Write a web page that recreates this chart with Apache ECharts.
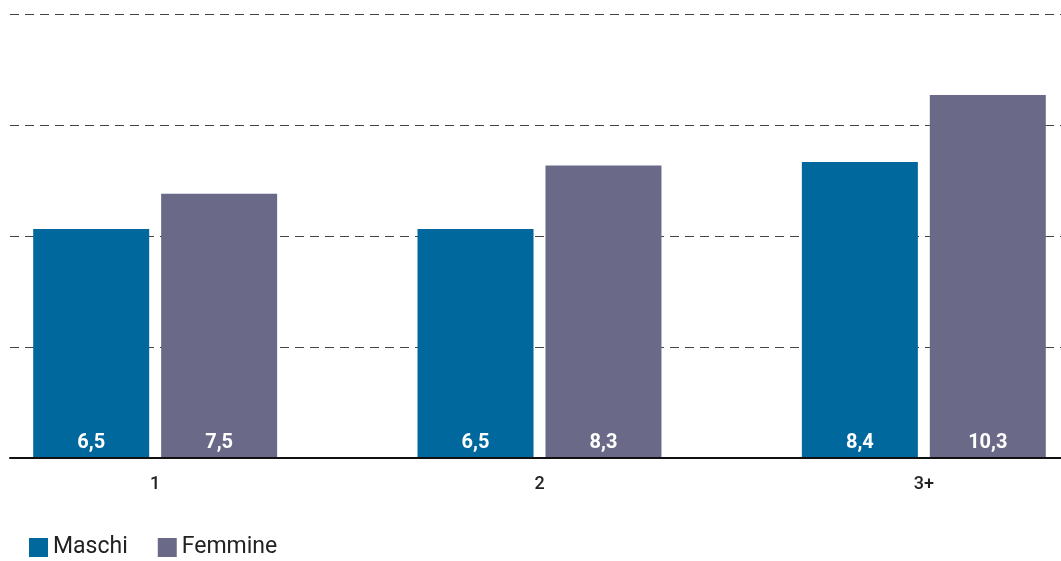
<!DOCTYPE html>
<html>
<head>
<meta charset="utf-8">
<script src="https://cdn.jsdelivr.net/npm/echarts@6/dist/echarts.min.js"></script>
<style>html,body{margin:0;padding:0;background:#fff;}#c{width:1061px;height:561px;}</style>
</head>
<body>
<div id="c"></div>
<script>
const categories = ['1', '2', '3+'];
const seriesNames = ['Maschi', 'Femmine'];
const maschi = [6.5, 6.5, 8.4];
const femmine = [7.5, 8.3, 10.3];
const yMax = 12.6;
const yInterval = 3.15;

const chart = echarts.init(document.getElementById('c'), null, {renderer: 'canvas'});
const labelCfg = {
  show: true,
  position: 'insideBottom',
  distance: 5,
  color: '#fff',
  fontSize: 20,
  fontWeight: 'bold',
  fontFamily: 'Roboto, sans-serif',
  formatter: p => String(p.value).replace('.', ',')
};
chart.setOption({
  animation: false,
  backgroundColor: '#fff',
  grid: [
    {left: 10, right: 0, top: 14, bottom: 103, containLabel: false, outerBoundsMode: 'none'},
    {left: -37, width: 1153, top: 14, bottom: 103, containLabel: false, outerBoundsMode: 'none'}
  ],
  legend: {
    left: 29, top: 536, padding: 0,
    icon: 'rect', itemWidth: 19, itemHeight: 19, itemGap: 30,
    textStyle: {fontSize: 23, color: '#222', fontFamily: 'Roboto, sans-serif'},
    data: seriesNames
  },
  xAxis: [
    {type: 'category', gridIndex: 0, data: categories,
     axisLine: {show: true, lineStyle: {color: '#111', width: 2}},
     axisTick: {show: false}, axisLabel: {show: false}, splitLine: {show: false}, z: 5},
    {type: 'category', gridIndex: 1, data: categories,
     axisLine: {show: false}, axisTick: {show: false},
     axisLabel: {show: true, color: '#222', fontSize: 18, fontWeight: 500, fontFamily: 'Roboto, sans-serif', margin: 17},
     splitLine: {show: false}}
  ],
  yAxis: [
    {type: 'value', gridIndex: 0, min: 0, max: yMax, interval: yInterval,
     axisLine: {show: false}, axisTick: {show: false}, axisLabel: {show: false},
     splitLine: {show: true, lineStyle: {color: '#444', width: 1, type: [9, 6]}}},
    {type: 'value', gridIndex: 1, min: 0, max: yMax, interval: yInterval,
     axisLine: {show: false}, axisTick: {show: false}, axisLabel: {show: false},
     splitLine: {show: false}}
  ],
  series: [
    {name: seriesNames[0], type: 'bar', xAxisIndex: 1, yAxisIndex: 1, data: maschi,
     barWidth: 116, barGap: '10.3%', itemStyle: {color: '#00689c'}, label: labelCfg, z: 3},
    {name: seriesNames[1], type: 'bar', xAxisIndex: 1, yAxisIndex: 1, data: femmine,
     barWidth: 116, barGap: '10.3%', itemStyle: {color: '#6a6a88'}, label: labelCfg, z: 3}
  ]
});
</script>
</body>
</html>
